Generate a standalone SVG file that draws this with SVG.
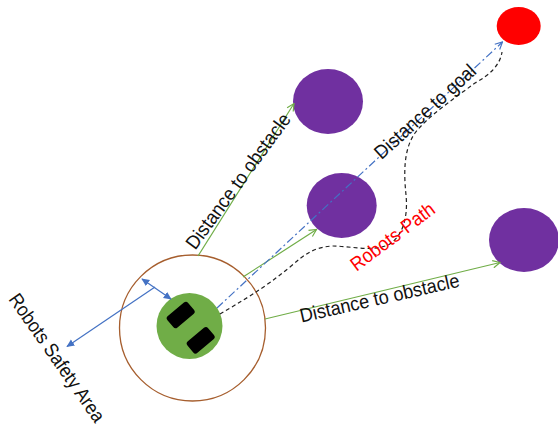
<svg xmlns="http://www.w3.org/2000/svg" width="558" height="432" viewBox="0 0 558 432">
  <style>
    .lbl { font-family: "Liberation Sans", Arial, sans-serif; font-size: 19.5px; fill: #111; text-anchor: middle; }
    .red { fill: #FF0000; }
    .obstacle { fill: #7030A0; }
    .green-ln { stroke: #70AD47; stroke-width: 1.2; fill: none; }
    .blue-ln { stroke: #4472C4; stroke-width: 1.2; fill: none; }
  </style>
  <defs>
    <marker id="openGreen" viewBox="0 0 10 10" refX="9" refY="5" markerWidth="9" markerHeight="9" markerUnits="userSpaceOnUse" orient="auto">
      <path d="M1,1 L9,5 L1,9" fill="none" stroke="#70AD47" stroke-width="1.3"/>
    </marker>
    <marker id="openBlue" viewBox="0 0 10 10" refX="9" refY="5" markerWidth="9" markerHeight="9" markerUnits="userSpaceOnUse" orient="auto">
      <path d="M1,1 L9,5 L1,9" fill="none" stroke="#4472C4" stroke-width="1.3"/>
    </marker>
    <marker id="solidBlue" viewBox="0 0 10 10" refX="9" refY="5" markerWidth="8" markerHeight="8" markerUnits="userSpaceOnUse" orient="auto-start-reverse">
      <path d="M0,0.5 L10,5 L0,9.5 Z" fill="#4472C4"/>
    </marker>
  </defs>

  <!-- robot safety area -->
  <g id="safety-area">
    <circle cx="192.5" cy="328" r="73" fill="none" stroke="#A65E2E" stroke-width="1.3"/>
  </g>

  <!-- robot body -->
  <g id="robot">
    <circle cx="189.5" cy="326" r="33" fill="#70AD47"/>
    <rect x="-13.5" y="-7.5" width="27" height="15" rx="3" fill="#000" transform="translate(180.7,315) rotate(-40)"/>
    <rect x="-13.5" y="-7.5" width="27" height="15" rx="3" fill="#000" transform="translate(200.7,340.3) rotate(-40)"/>
  </g>

  <!-- obstacles and goal -->
  <g id="obstacle-top">
    <ellipse class="obstacle" cx="328" cy="101.5" rx="35" ry="32.5"/>
  </g>
  <g id="obstacle-middle">
    <ellipse class="obstacle" cx="341.7" cy="205.5" rx="35" ry="32.5"/>
  </g>
  <g id="obstacle-right">
    <ellipse class="obstacle" cx="524" cy="240" rx="35" ry="32"/>
  </g>
  <g id="goal">
    <ellipse cx="518.7" cy="26" rx="22" ry="19" fill="#FF0000"/>
  </g>

  <!-- connectors -->
  <g id="connectors">
    <!-- distances to obstacles -->
    <line class="green-ln" x1="198" y1="256" x2="294" y2="103.5" marker-end="url(#openGreen)"/>
    <line class="green-ln" x1="243" y1="277" x2="316.5" y2="229.5" marker-end="url(#openGreen)"/>
    <line class="green-ln" x1="265" y1="319" x2="500" y2="262.5" marker-end="url(#openGreen)"/>
    <!-- distance to goal -->
    <line class="blue-ln" x1="217" y1="308" x2="502.5" y2="42" stroke-dasharray="8 3 2 3" marker-end="url(#openBlue)"/>
    <!-- safety area radius -->
    <line class="blue-ln" x1="142" y1="279" x2="171" y2="299" marker-start="url(#solidBlue)" marker-end="url(#solidBlue)"/>
    <!-- safety area label pointer -->
    <line class="blue-ln" x1="155" y1="287" x2="67" y2="346.5" marker-end="url(#solidBlue)"/>
    <!-- robot path -->
    <path d="M220,314 C240,302 262,290 290,267 C305,254 314,247 333,246 C350,246 372,252 388,245 C404,236 408,215 406,195 C404,175 403,150 415,133 C428,116 455,98 475,83 C490,75 500,65 502,52" fill="none" stroke="#222" stroke-width="1.2" stroke-dasharray="4 3"/>
  </g>

  <!-- labels -->
  <g id="labels">
    <g transform="translate(51.5,361.5) rotate(55)">
      <text class="lbl" x="0" y="0" textLength="152" lengthAdjust="spacingAndGlyphs">Robots Safety Area</text>
    </g>
    <g transform="translate(243.5,185) rotate(-53.7)">
      <text class="lbl" x="0" y="0" textLength="163" lengthAdjust="spacingAndGlyphs">Distance to obstacle</text>
    </g>
    <g transform="translate(429.5,116.5) rotate(-42.4)">
      <text class="lbl" x="0" y="0" textLength="130" lengthAdjust="spacingAndGlyphs">Distance to goal</text>
    </g>
    <g transform="translate(381,304.5) rotate(-12.8)">
      <text class="lbl" x="0" y="0" textLength="163" lengthAdjust="spacingAndGlyphs">Distance to obstacle</text>
    </g>
    <g transform="translate(396.5,242) rotate(-36.7)">
      <text class="lbl red" x="0" y="0" textLength="100" lengthAdjust="spacingAndGlyphs">Robots-Path</text>
    </g>
  </g>
</svg>
